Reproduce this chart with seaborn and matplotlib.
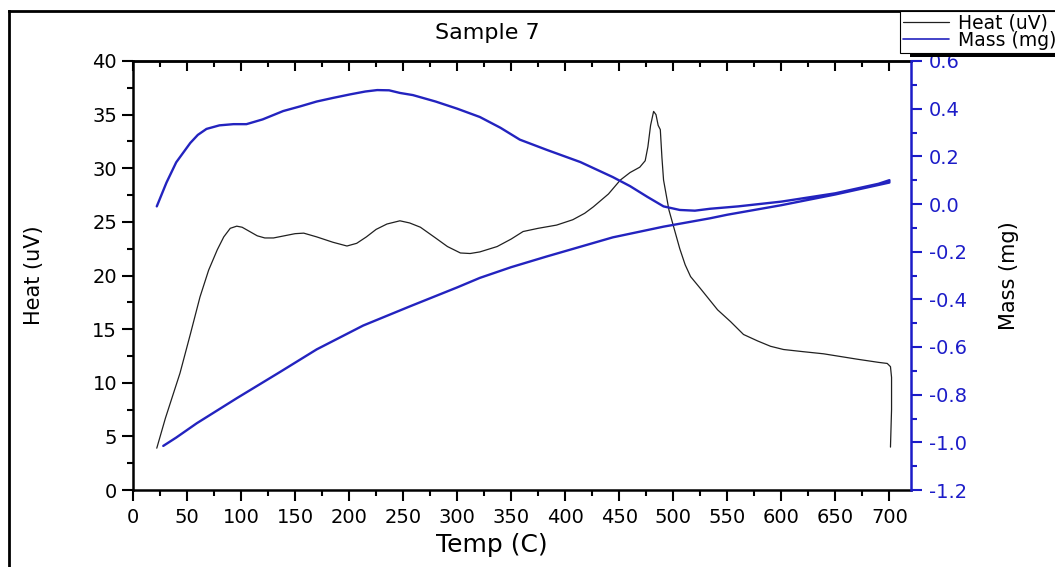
import matplotlib
matplotlib.use("Agg")
import matplotlib.pyplot as plt
from matplotlib.patches import Rectangle
from matplotlib.lines import Line2D
from matplotlib.ticker import MultipleLocator
import seaborn as sns
import pandas as pd

# ---- data ----
heat_temp = [22, 30, 43.5, 53, 62, 70, 78, 84, 90, 96, 101, 108, 115, 122, 130, 140, 150, 158,
             170, 185, 198, 207, 216, 225, 235, 247, 256, 266, 280, 291, 303, 312, 321, 337, 350,
             361, 375, 392, 407, 418, 426, 440, 451, 460, 469, 474, 476.5, 479, 481.8, 484, 486,
             488, 489.5, 491, 496, 506, 511, 516, 525, 533, 541, 553, 565, 578, 590, 602, 620, 639,
             670, 690, 698, 701, 702, 702, 701]
heat_vals = [3.9, 6.7, 10.9, 14.5, 18.0, 20.5, 22.4, 23.6, 24.4, 24.6, 24.5, 24.1, 23.7, 23.5,
             23.5, 23.7, 23.9, 23.95, 23.6, 23.1, 22.75, 23.0, 23.6, 24.3, 24.8, 25.1, 24.9, 24.5,
             23.5, 22.7, 22.1, 22.05, 22.2, 22.7, 23.4, 24.1, 24.4, 24.7, 25.2, 25.8, 26.4, 27.6,
             28.9, 29.6, 30.1, 30.7, 32.0, 34.0, 35.3, 35.0, 34.0, 33.6, 31.0, 28.9, 26.1, 22.5,
             21.0, 19.9, 18.8, 17.8, 16.8, 15.7, 14.5, 13.9, 13.4, 13.1, 12.9, 12.7, 12.2, 11.9,
             11.8, 11.5, 10.5, 7.5, 4.0]

mass_temp = [22, 31, 40, 53, 60, 68, 80, 93, 105, 120, 139, 155, 170, 185, 201, 215, 226, 237,
             247, 259, 280, 300, 321, 340, 358, 383, 414, 444, 460, 476, 491, 506, 520, 534, 560,
             600, 650, 690, 700,
             700, 695, 650, 600, 550, 534, 491, 444, 383, 350, 321, 300, 256, 213, 170, 136, 96,
             59, 40, 28]
mass_vals = [-0.01, 0.09, 0.175, 0.256, 0.29, 0.315, 0.33, 0.335, 0.335, 0.355, 0.39, 0.41, 0.43,
             0.445, 0.46, 0.472, 0.478, 0.477, 0.466, 0.457, 0.43, 0.40, 0.365, 0.32, 0.27, 0.227,
             0.176, 0.113, 0.075, 0.03, -0.01, -0.025, -0.028, -0.02, -0.01, 0.01, 0.045, 0.085,
             0.10,
             0.09, 0.085, 0.04, -0.005, -0.045, -0.06, -0.095, -0.14, -0.22, -0.265, -0.31, -0.35,
             -0.43, -0.51, -0.61, -0.705, -0.815, -0.92, -0.98, -1.015]

x_ticks = [0, 50, 100, 150, 200, 250, 300, 350, 400, 450, 500, 550, 600, 650, 700]
heat_ticks = [0, 5, 10, 15, 20, 25, 30, 35, 40]
mass_ticks = [-1.2, -1.0, -0.8, -0.6, -0.4, -0.2, 0.0, 0.2, 0.4, 0.6]

title = "Sample 7"
x_label = "Temp (C)"
heat_label = "Heat (uV)"
mass_label = "Mass (mg)"

# ---- style ----
sns.set_style("white")
plt.rcParams["font.family"] = ["DejaVu Sans"]
plt.rcParams["axes.unicode_minus"] = False
plt.rcParams["text.color"] = "black"
plt.rcParams["axes.labelcolor"] = "black"
plt.rcParams["xtick.color"] = "black"
plt.rcParams["ytick.color"] = "black"

BLUE = "#1c1cc8"
LINE_BLUE = "#2323bf"

fig = plt.figure(figsize=(10.55, 5.67), dpi=100)
ax = fig.add_axes([133 / 1055, 1 - 490 / 567, (911 - 133) / 1055, (490 - 61) / 567])
ax2 = ax.twinx()

heat_df = pd.DataFrame({"temp": heat_temp, "heat": heat_vals})
mass_df = pd.DataFrame({"temp": mass_temp, "mass": mass_vals})

sns.lineplot(data=heat_df, x="temp", y="heat", ax=ax, sort=False, estimator=None,
             color="#202020", linewidth=0.9)
sns.lineplot(data=mass_df, x="temp", y="mass", ax=ax2, sort=False, estimator=None,
             color=LINE_BLUE, linewidth=1.7)

ax.set_xlim(0, 720)
ax.set_ylim(0, 40)
ax2.set_ylim(-1.2, 0.6)

ax.set_xticks(x_ticks)
ax.set_xticklabels([str(t) for t in x_ticks])
ax.set_yticks(heat_ticks)
ax.set_yticklabels([str(t) for t in heat_ticks])
ax2.set_yticks(mass_ticks)
ax2.set_yticklabels([f"{t:.1f}" for t in mass_ticks])
ax.xaxis.set_minor_locator(MultipleLocator(25))
ax.yaxis.set_minor_locator(MultipleLocator(2.5))
ax2.yaxis.set_minor_locator(MultipleLocator(0.1))

for sp in ["left", "bottom", "top"]:
    ax.spines[sp].set_linewidth(1.8)
    ax.spines[sp].set_color("black")
ax.spines["right"].set_visible(False)
for sp in ["left", "bottom", "top"]:
    ax2.spines[sp].set_visible(False)
ax2.spines["right"].set_linewidth(1.8)
ax2.spines["right"].set_color(BLUE)

ax.tick_params(axis="x", which="major", direction="out", length=8, width=1.5, labelsize=14,
               bottom=True, top=False, pad=5)
ax.tick_params(axis="x", which="minor", direction="out", length=4.5, width=1.5,
               bottom=True, top=False)
ax.tick_params(axis="y", which="major", direction="out", length=8, width=1.5, labelsize=14,
               left=True, right=False)
ax.tick_params(axis="y", which="minor", direction="out", length=4.5, width=1.5,
               left=True, right=False)
# top ticks point inward
top = ax.secondary_xaxis("top")
top.set_xticks(x_ticks)
top.set_xticklabels([])
top.xaxis.set_minor_locator(MultipleLocator(25))
top.tick_params(axis="x", which="major", direction="in", length=7, width=1.5, colors="black")
top.tick_params(axis="x", which="minor", direction="in", length=4, width=1.5, colors="black")
top.spines["top"].set_linewidth(1.8)

ax2.tick_params(axis="y", which="major", direction="out", length=8, width=1.5, labelsize=14,
                colors=BLUE, right=True, pad=5)
ax2.tick_params(axis="y", which="minor", direction="out", length=4.5, width=1.5, colors=BLUE)

ax.set_xlabel(x_label, fontsize=18, color="black")
ax.xaxis.set_label_coords(0.461, -0.1)
ax.set_ylabel(heat_label, fontsize=15, color="black")
ax.yaxis.set_label_coords(-0.114, 0.5)
ax2.set_ylabel(mass_label, fontsize=15, color="black")
ax2.yaxis.set_label_coords(1.113, 0.5)

fig.text(487 / 1055, 1 - 33 / 567, title, fontsize=16, ha="center", va="center", color="black")

# page border (left and top visible, right/bottom run off the page)
fig.add_artist(Line2D([9 / 1055, 9 / 1055], [0.0, 1 - 11 / 567], transform=fig.transFigure,
                      color="black", lw=2.0, solid_capstyle="projecting"))
fig.add_artist(Line2D([9 / 1055, 1.0], [1 - 11 / 567, 1 - 11 / 567], transform=fig.transFigure,
                      color="black", lw=2.0, solid_capstyle="projecting"))

# legend shadow bar
fig.patches.append(Rectangle((910 / 1055, 1 - 57 / 567), 0.2, 6 / 567, transform=fig.transFigure,
                             fc="black", ec="none", zorder=5))

handles = [Line2D([], [], color="#202020", lw=0.9), Line2D([], [], color=LINE_BLUE, lw=1.2)]
leg = fig.legend(handles, [heat_label, mass_label], loc="upper left",
                 bbox_to_anchor=(900 / 1055, 1 - 11 / 567), borderaxespad=0,
                 fontsize=13.5, frameon=True, fancybox=False, framealpha=1,
                 edgecolor="black", handlelength=2.45, handletextpad=0.5,
                 labelspacing=-0.1, borderpad=0.15)
leg.get_frame().set_linewidth(0.8)
leg.set_zorder(6)

fig.savefig("out.png", dpi=100)
